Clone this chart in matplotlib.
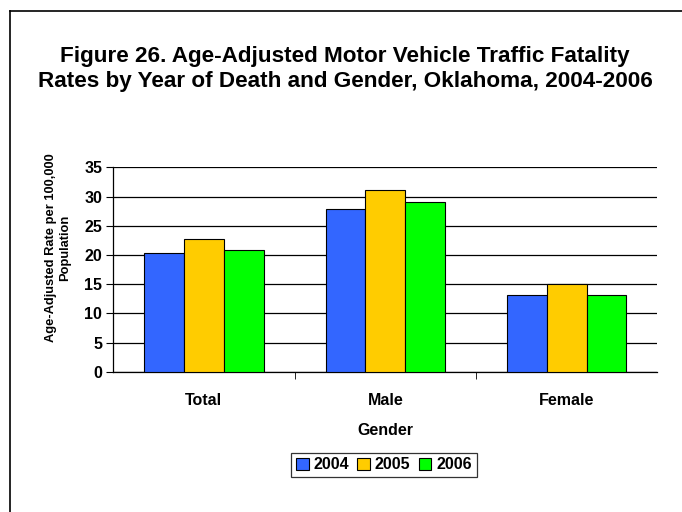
import numpy as np
import matplotlib
matplotlib.use("Agg")
import matplotlib.pyplot as plt
from matplotlib.lines import Line2D

plt.rcParams['font.family'] = ['Liberation Sans', 'DejaVu Sans']
plt.rcParams['font.weight'] = 'bold'

# data
categories = ['Total', 'Male', 'Female']
years = ['2004', '2005', '2006']
rate_2004 = [20.4, 27.9, 13.2]
rate_2005 = [22.8, 31.1, 15.1]
rate_2006 = [20.9, 29.0, 13.1]
colors = ['#3366FF', '#FFCC00', '#00FF00']

fig = plt.figure(figsize=(6.82, 5.12), dpi=100)
ax = fig.add_axes([0.166, 0.274, 0.798, 0.399])

x = np.arange(len(categories))
w = 0.219
for i, (vals, yr) in enumerate(zip([rate_2004, rate_2005, rate_2006], years)):
    ax.bar(x + (i - 1) * w, vals, w, color=colors[i], edgecolor='black',
           linewidth=0.8, label=yr, zorder=3)

ax.set_xlim(-0.5, 2.5)
ax.set_ylim(0, 35)
ax.set_yticks(np.arange(0, 36, 5))
ax.yaxis.grid(True, color='black', linewidth=0.9, zorder=0)
ax.set_xticks(x)
ax.set_xticklabels(categories, fontsize=11.5, fontweight='bold')
ax.set_xticks([0.5, 1.5], minor=True)
ax.tick_params(axis='x', which='major', length=0, pad=15)
ax.tick_params(axis='x', which='minor', length=5, direction='out')
ax.tick_params(axis='y', labelsize=11.5, length=5, direction='out', pad=3)
for lbl in ax.get_yticklabels():
    lbl.set_fontweight('bold')
for s in ['top', 'right']:
    ax.spines[s].set_visible(False)
ax.spines['left'].set_linewidth(0.9)
ax.spines['bottom'].set_linewidth(0.9)

ax.set_xlabel('Gender', fontsize=11.5, fontweight='bold', labelpad=11)

# y axis title, placed by hand like the Excel original
fig.text(58 / 682, 1 - 248 / 512, 'Age-Adjusted Rate per 100,000\nPopulation',
         rotation=90, ha='center', va='center', fontsize=9.3,
         fontweight='bold', linespacing=1.3)

fig.text(0.506, 0.865, 'Figure 26. Age-Adjusted Motor Vehicle Traffic Fatality\n'
         'Rates by Year of Death and Gender, Oklahoma, 2004-2006',
         ha='center', va='center', fontsize=16.2, fontweight='bold', linespacing=1.25)

leg = fig.legend(loc='center', bbox_to_anchor=(0.563, 0.092), ncol=3,
                 frameon=True, fancybox=False, edgecolor='black',
                 handlelength=0.8, handleheight=0.8, handletextpad=0.3,
                 columnspacing=0.5, borderpad=0.3,
                 prop={'size': 11.5, 'weight': 'bold'})
leg.get_frame().set_linewidth(0.9)

# outer chart frame (only top and left show)
fig.add_artist(Line2D([10 / 682, 10 / 682], [0, 1 - 11 / 512], color='black', lw=1.2, transform=fig.transFigure))
fig.add_artist(Line2D([10 / 682, 1], [1 - 11 / 512, 1 - 11 / 512], color='black', lw=1.2, transform=fig.transFigure))

fig.savefig('out.png', dpi=100)
